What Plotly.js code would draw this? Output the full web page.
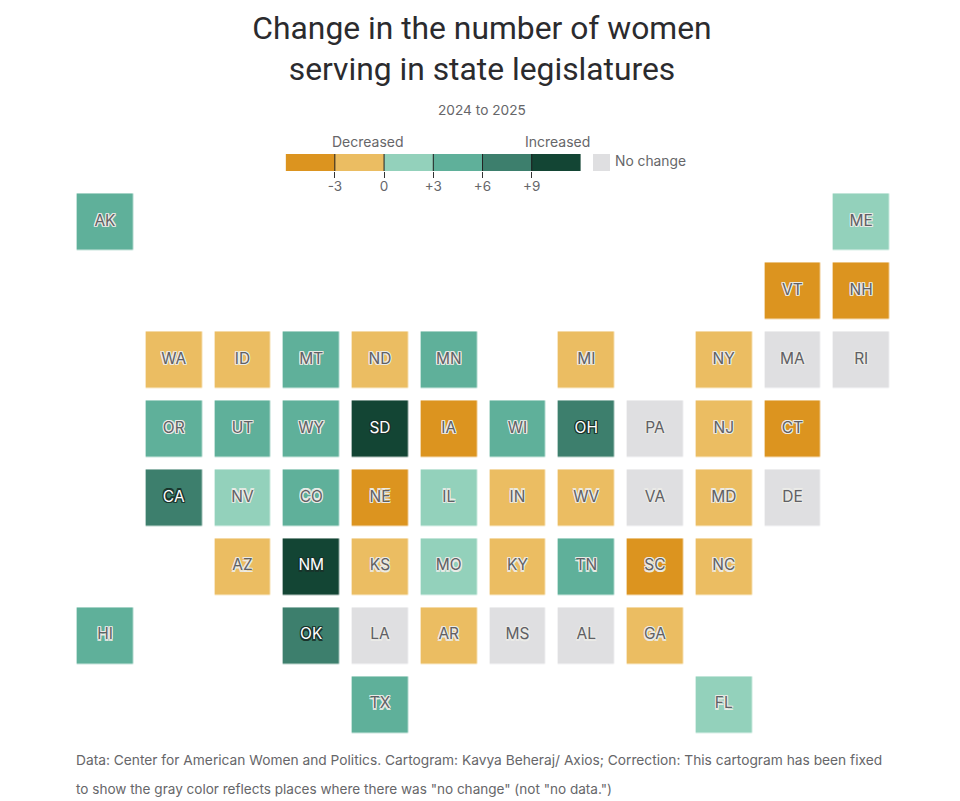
<!DOCTYPE html>
<html><head><meta charset="utf-8">
<script src="https://cdn.plot.ly/plotly-3.0.1.min.js"></script>
<style>html,body{margin:0;padding:0;background:#fff}#c{width:960px;height:801px}</style>
</head><body><div id="c"></div>
<script>
// Tile grid
const states = ["AK","ME","VT","NH","WA","ID","MT","ND","MN","MI","NY","MA","RI","OR","UT","WY","SD","IA","WI","OH","PA","NJ","CT","CA","NV","CO","NE","IL","IN","WV","VA","MD","DE","AZ","NM","KS","MO","KY","TN","SC","NC","HI","OK","LA","AR","MS","AL","GA","TX","FL"];
const cols   = [0,11,10,11,1,2,3,4,5,7,9,10,11,1,2,3,4,5,6,7,8,9,10,1,2,3,4,5,6,7,8,9,10,2,3,4,5,6,7,8,9,0,3,4,5,6,7,8,4,9];
const rows   = [0,0,1,1,2,2,2,2,2,2,2,2,2,3,3,3,3,3,3,3,3,3,3,4,4,4,4,4,4,4,4,4,4,5,5,5,5,5,5,5,5,6,6,6,6,6,6,6,7,7];
// Estimated change in seats (only the colour bin can be read from the picture)
const change = [4,2,-4,-4,-1,-1,4,-1,4,-1,-1,0,0,4,4,4,10,-4,4,7,0,-1,-4,7,2,4,-4,2,-1,-1,0,-1,0,-1,10,-1,2,-1,4,-4,-1,4,7,0,-1,0,0,-1,4,2];
const legendBins = [-4.5,-1.5,1.5,4.5,7.5,10.5];
const legendEdges = [-6,-3,0,3,6,9,12];
const tickVals = [-3,0,3,6,9];
const tickText = ["-3","0","+3","+6","+9"];
const darkLabelStates = ["CA","SD","OH","NM","OK"];
const colors = {dDown:"#DC941F",down:"#EBBD62",none:"#DFDFE1",up:"#93D1BB",up3:"#5FB09A",up6:"#3D7F6D",up9:"#134534"};

const zmin=-6, zmax=12, f=v=>(v-zmin)/(zmax-zmin);
const stepped=[[-6,-3,colors.dDown],[-3,-0.5,colors.down],[-0.5,0.5,colors.none],[0.5,3,colors.up],[3,6,colors.up3],[6,9,colors.up6],[9,12,colors.up9]];
const colorscale=[]; stepped.forEach(s=>{colorscale.push([f(s[0]),s[2]]);colorscale.push([f(s[1]),s[2]]);});

const grid=Array.from({length:8},()=>Array(12).fill(null));
states.forEach((s,i)=>{grid[rows[i]][cols[i]]=change[i];});
const base={colorscale,zmin,zmax,showscale:false,hoverinfo:"skip",hoverongaps:false};
const FONT='Inter, "Open Sans", sans-serif';
const halo=(c,w)=>{const o=[];for(const [a,b] of [[1,0],[-1,0],[0,1],[0,-1],[1,1],[-1,1],[1,-1],[-1,-1]])o.push(`${a*w}px ${b*w}px 0.5px ${c}`);return o.join(",");};
const idx=states.map((_,i)=>i);
const darkIdx=idx.filter(i=>!darkLabelStates.includes(states[i]));
const lightIdx=idx.filter(i=>darkLabelStates.includes(states[i]));
const labelTrace=(ids,color,shadow)=>({type:"scatter",mode:"text",x:ids.map(i=>cols[i]),y:ids.map(i=>rows[i]),text:ids.map(i=>states[i]),
  textposition:"middle center",hoverinfo:"skip",xaxis:"x",yaxis:"y4",textfont:{family:FONT,size:15.5,color,shadow}});

const data=[
 Object.assign({type:"heatmap",z:grid,xgap:12.6,ygap:12.6,xaxis:"x",yaxis:"y"},base),
 labelTrace(darkIdx,"#606064",halo("rgba(236,236,232,0.9)",1.1)),
 labelTrace(lightIdx,"#ffffff",halo("rgba(25,50,42,0.9)",1.1)),
 Object.assign({type:"heatmap",z:[legendBins],x:legendEdges,y:[0,1],xaxis:"x2",yaxis:"y2"},base),
 Object.assign({type:"heatmap",z:[[0]],x:[0,1],y:[0,1],xaxis:"x3",yaxis:"y3"},base)
];
const W=960,H=801,px=(a,b)=>[a/W,b/W],py=(t,b)=>[1-b/H,1-t/H];
const hidden={showgrid:false,zeroline:false,showticklabels:false,ticks:"",showline:false,fixedrange:true};
const ann=(text,x,y,size,anchor,color)=>({text,xref:"paper",yref:"paper",x:x/W,y:1-y/H,xanchor:anchor,yanchor:"middle",showarrow:false,font:{family:FONT,size,color:color||"#666669"}});
const layout={
 width:W,height:H,margin:{l:0,r:0,t:0,b:0},paper_bgcolor:"#fff",plot_bgcolor:"rgba(0,0,0,0)",showlegend:false,
 title:{text:"Change in the number of women<br>serving in state legislatures",x:482/W,xanchor:"center",y:1-38.5/H,yanchor:"middle",font:{family:'Roboto, Inter, sans-serif',size:31.8,color:"#2b2b2e",weight:400}},
 xaxis:Object.assign({},hidden,{domain:px(70.6,895.6),range:[-0.5,11.5]}),
 yaxis:Object.assign({},hidden,{domain:py(187.4,739),range:[7.5,-0.5]}),
 yaxis4:Object.assign({},hidden,{domain:py(190,742),range:[7.5,-0.5],anchor:"x",overlaying:"y"}),
 xaxis2:{domain:px(285.6,581),range:[-6,12],anchor:"y2",showgrid:false,zeroline:false,showline:false,fixedrange:true,tickmode:"array",tickvals:tickVals,ticktext:tickText,ticks:"outside",ticklen:6,tickcolor:"#333",tickwidth:1,ticklabelstandoff:-3,tickfont:{family:FONT,size:13.5,color:"#666669"}},
 yaxis2:Object.assign({},hidden,{domain:py(154,171),range:[0,1],anchor:"x2"}),
 xaxis3:Object.assign({},hidden,{domain:px(593,610),range:[0,1],anchor:"y3"}),
 yaxis3:Object.assign({},hidden,{domain:py(154,171),range:[0,1],anchor:"x3"}),
 shapes:tickVals.map(v=>({type:"line",xref:"x2",yref:"y2",x0:v,x1:v,y0:0,y1:1,line:{color:"#222",width:1},layer:"above"})),
 annotations:[
  ann("2024 to 2025",482,110,13.7,"center"),
  ann("Decreased",367.5,141.5,14,"center"),
  ann("Increased",557.5,141.5,14,"center"),
  ann("No change",613,161,13.8,"left"),
  ann("Data: Center for American Women and Politics. Cartogram: Kavya Beheraj/ Axios; Correction: This cartogram has been fixed",74,760,13.75,"left"),
  ann('to show the gray color reflects places where there was "no change" (not "no data.")',74,789,13.55,"left")
 ]
};
Plotly.newPlot("c",data,layout,{displayModeBar:false,responsive:false});
</script></body></html>
